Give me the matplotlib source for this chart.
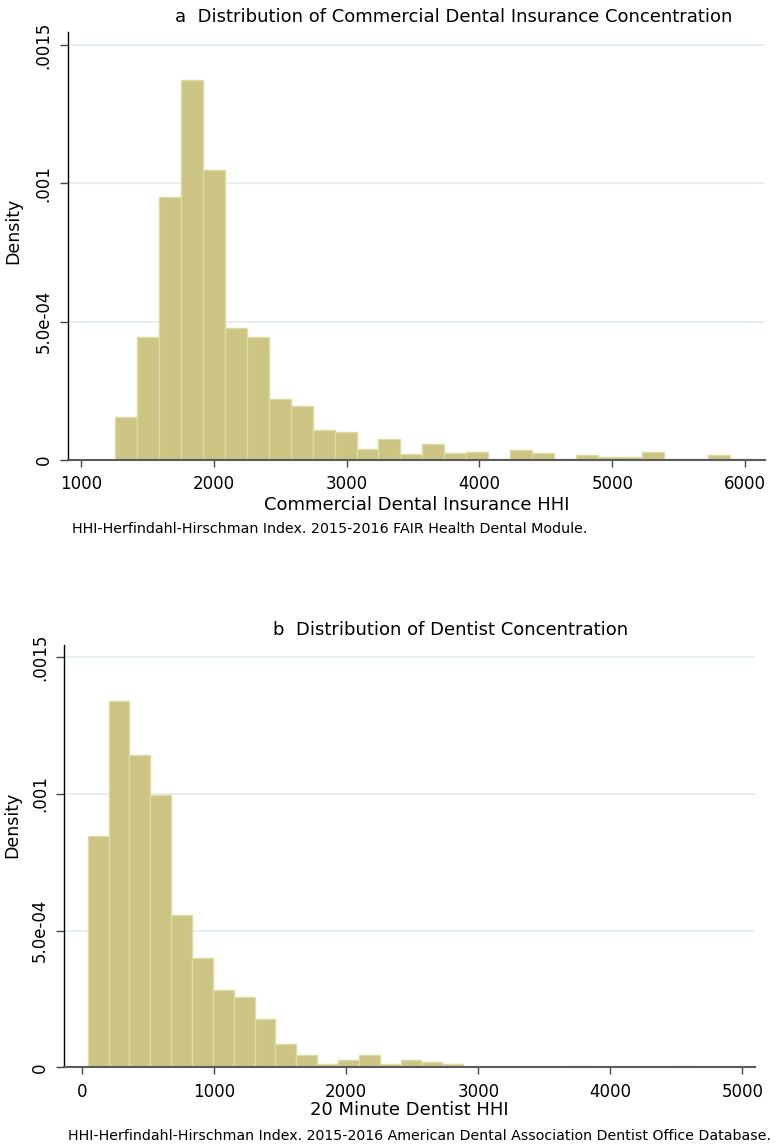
import numpy as np
import matplotlib
matplotlib.use("Agg")
import matplotlib.pyplot as plt

# ---- data ------------------------------------------------------------------
# panel a: commercial dental insurance HHI (29 equal bins)
ins_bin_start, ins_bin_width = 1256, 165.3
ins_density = [0.000156, 0.000445, 0.000951, 0.001374, 0.001049, 0.000478, 0.000445,
               0.000221, 0.000196, 0.000107, 0.000100, 0.000041, 0.000075, 0.000022,
               0.000059, 0.000026, 0.000029, 0.000004, 0.000036, 0.000024, 0.000004,
               0.000017, 0.000010, 0.000010, 0.000029, 0.000004, 0.000004, 0.000017,
               0.000004]
# panel b: 20 minute dentist HHI (29 equal bins)
den_bin_start, den_bin_width = 41, 158.0
den_density = [0.000847, 0.001339, 0.001141, 0.000998, 0.000556, 0.000399, 0.000283,
               0.000256, 0.000176, 0.000084, 0.000044, 0.000012, 0.000026, 0.000044,
               0.000012, 0.000026, 0.000018, 0.000012, 0, 0, 0, 0, 0, 0.000006,
               0, 0, 0, 0, 0.000006]

y_ticks = [0, 0.0005, 0.001, 0.0015]
y_ticklabels = ["0", "5.0e-04", ".001", ".0015"]
ins_xticks = [1000, 2000, 3000, 4000, 5000, 6000]
den_xticks = [0, 1000, 2000, 3000, 4000, 5000]

FILL, EDGE = "#cbc482", "#dedaa6"
GRID = "#e6eef0"

W, H = 780, 1145
fig = plt.figure(figsize=(W / 100, H / 100), dpi=100)


def px_axes(l, t, r, b):
    return fig.add_axes([l / W, 1 - b / H, (r - l) / W, (b - t) / H])


def hist_panel(ax, start, width, dens, xticks, xlim, ylim, ylab_xy):
    edges = start + width * np.arange(len(dens))
    ax.bar(edges, dens, width=width, align="edge", color=FILL, edgecolor=EDGE,
           linewidth=1.0, zorder=2)
    ax.set_xlim(*xlim)
    ax.set_ylim(*ylim)
    ax.set_yticks(y_ticks)
    ax.set_yticklabels(y_ticklabels, rotation=90, va="center")
    ax.set_xticks(xticks)
    for v in y_ticks[1:]:
        ax.axhline(v, color=GRID, lw=1.3, zorder=1)
    for s in ("top", "right"):
        ax.spines[s].set_visible(False)
    ax.spines["left"].set_color("black")
    ax.spines["left"].set_linewidth(1.0)
    ax.spines["bottom"].set_color("#5a5a5a")
    ax.spines["bottom"].set_linewidth(1.5)
    ax.tick_params(axis="y", length=6, width=1, color="#444444", pad=5, labelsize=12)
    ax.tick_params(axis="x", length=5, width=1, color="#444444", pad=6, labelsize=12)
    ax.set_ylabel("Density", fontsize=12.5, va="center", ha="center")
    ax.yaxis.set_label_coords(*ylab_xy)


ax1 = px_axes(68, 32, 765, 460)
hist_panel(ax1, ins_bin_start, ins_bin_width, ins_density, ins_xticks,
           (902, 6150), (0, 0.001547), (-0.079, 0.535))
ax1.set_xlabel("Commercial Dental Insurance HHI", fontsize=13, labelpad=2)

ax2 = px_axes(64.3, 645, 755, 1067.3)
hist_panel(ax2, den_bin_start, den_bin_width, den_density, den_xticks,
           (-136, 5096), (0, 0.001545), (-0.075, 0.575))
ax2.set_xlabel("20 Minute Dentist HHI", fontsize=13, labelpad=0)

fig.text(454 / W, 1 - 17 / H, "a  Distribution of Commercial Dental Insurance Concentration",
         ha="center", va="center", fontsize=13)
fig.text(451 / W, 1 - 630 / H, "b  Distribution of Dentist Concentration",
         ha="center", va="center", fontsize=13)
fig.text(72 / W, 1 - 529 / H,
         "HHI-Herfindahl-Hirschman Index. 2015-2016 FAIR Health Dental Module.",
         ha="left", va="center", fontsize=10.3)
fig.text(68 / W, 1 - 1136 / H,
         "HHI-Herfindahl-Hirschman Index. 2015-2016 American Dental Association Dentist Office Database.",
         ha="left", va="center", fontsize=10.2)

fig.savefig("out.png", dpi=100)
